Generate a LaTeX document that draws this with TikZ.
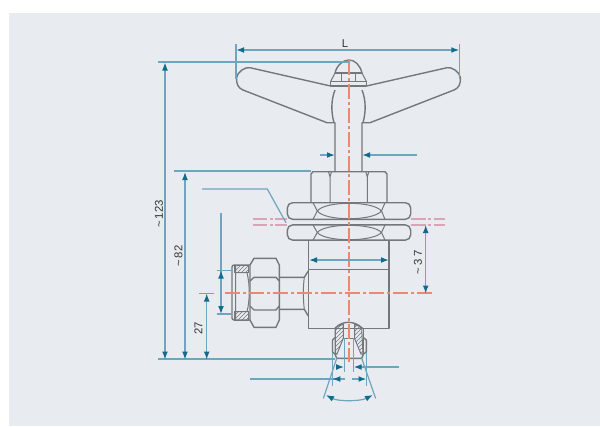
\documentclass[tikz,border=0pt]{standalone}
\usepackage{fontspec}
\setmainfont{Liberation Sans}
\usetikzlibrary{arrows.meta, patterns}
\definecolor{panelbg}{HTML}{E8ECF0}
\definecolor{partgray}{HTML}{74787B}
\definecolor{dimline}{HTML}{6FA5BE}
\definecolor{dimtip}{HTML}{0F6C8A}
\definecolor{axisred}{HTML}{F0866A}
\definecolor{planepink}{HTML}{DAA4B6}

\begin{document}
\begin{tikzpicture}[x=0.75pt, y=-0.75pt,
	part/.style={draw=partgray, line width=1.05pt, line join=round},
	thin part/.style={draw=partgray, line width=0.75pt},
	hatched/.style={thin part, pattern=north east lines, pattern color=partgray},
	dim/.style={draw=dimline, line width=0.9pt},
	dimarrow/.style={dim, {Latex[length=6pt,width=4.4pt,color=dimtip]}-{Latex[length=6pt,width=4.4pt,color=dimtip]}},
	dimin/.style={dim, -{Latex[length=6pt,width=4.4pt,color=dimtip]}},
	axis/.style={draw=axisred, line width=1pt, dash pattern=on 11pt off 2.5pt on 2pt off 2.5pt},
	plane/.style={draw=planepink, line width=1.1pt, dash pattern=on 11pt off 2pt on 2pt off 2pt},
	dimlabel/.style={font=\fontsize{8.5}{10}\selectfont, text=black!80, inner sep=0pt}]
	\useasboundingbox (0,0) rectangle (600,426);
	\fill[panelbg] (9,13) rectangle (600,426);

	% handle, grip and stem, both halves
	\foreach \mir in {1,-1} {
		\begin{scope}[shift={(348.5,0)}, xscale=\mir]
			\draw[part] (-18,86) -- (-98.5,67.7) .. controls (-103,66.5) and (-111.5,72) .. (-112,78)
				.. controls (-112,84) and (-110.5,88) .. (-105.5,90) -- (-21.5,122.7) -- (-13.5,122.7) -- (-13.5,172);
			\draw[part] (-13.5,90) .. controls (-17.5,100) and (-17.5,112) .. (-14.5,122.7);
			\draw[thin part] (-13.5,73) -- (-18,81.7);
			\draw[thin part] (-7,73) -- (-7,81.7);
		\end{scope}
	}
	\draw[part] (330.5,81.7) rectangle (366.5,86);
	\draw[part] (335,73) -- (362,73);
	\draw[part] (335,73) .. controls (337,65) and (343,60) .. (349,60) .. controls (355,60) and (360,65) .. (362,73);

	% upper hexagon
	\draw[part] (311,202.7) -- (311,174) -- (313,171.7) -- (385,171.7) -- (387,174) -- (387,202.7);
	\draw[thin part] (328.5,171.7) -- (330,177) -- (331.5,171.7) (330,177) -- (330,202.7);
	\draw[thin part] (365.8,171.7) -- (367.3,177) -- (368.8,171.7) (367.3,177) -- (367.3,202.7);

	% the two lock nuts
	\foreach \cy/\hh in {211/8.3, 232.5/7.6} {
		\draw[part, rounded corners=4pt] (287.3,\cy-\hh) rectangle (410.7,\cy+\hh);
		\draw[thin part] (313,\cy-\hh) -- (317.3,\cy) -- (313,\cy+\hh);
		\draw[thin part] (385,\cy-\hh) -- (381.5,\cy) -- (385,\cy+\hh);
		\draw[thin part] (317.3,\cy) .. controls (325,\cy-\hh-2) and (373,\cy-\hh-2) .. (381.5,\cy)
			.. controls (373,\cy+\hh+2) and (325,\cy+\hh+2) .. (317.3,\cy);
	}

	% valve body
	\draw[part] (308.3,240) -- (308.3,328.3) -- (389,328.3) -- (389,240);
	\draw[part] (308.3,269.3) -- (389,269.3);

	% side connection
	\draw[part] (308.3,271) -- (304.3,277.3) -- (280,277.3);
	\draw[part] (308.3,316) -- (304.3,309.3) -- (280,309.3);
	\draw[thin part] (304.3,277.3) .. controls (303,288) and (303,298) .. (304.3,309.3);
	\draw[part] (250,265) -- (254,258.3) -- (276,258.3) -- (279.3,265) -- (279.3,320) -- (276,327.3) -- (254,327.3) -- (250,320) -- cycle;
	\draw[part] (250,281) -- (254,277.3) -- (276,277.3) -- (279.3,281);
	\draw[part] (250,306) -- (254,310) -- (276,310) -- (279.3,306);
	\draw[hatched] (234,265) -- (248,265) -- (248,272.7) -- (234,272.7) -- cycle;
	\draw[hatched] (234,311.7) -- (248,311.7) -- (248,320) -- (234,320) -- cycle;
	\draw[part, rounded corners=1.5pt] (250,265) -- (232,265) -- (232,320) -- (250,320);
	\draw[thin part] (235.7,265) -- (235.7,320) (235.7,272.7) -- (247,272.7) .. controls (250,285) and (250,300) .. (247,311.7) -- (235.7,311.7);

	% lower outlet
	\draw[hatched] (335,328.3) .. controls (337,326) and (340,325) .. (343.3,324.5) -- (343.3,338.3) -- (337,354) -- (335,354) -- cycle;
	\draw[hatched] (361.7,328.3) .. controls (360,326) and (357,325) .. (354.5,324.5) -- (354.5,338.3) -- (361,354) -- (363,354) -- cycle;
	\draw[part] (335,328.3) .. controls (339,324) and (344,322.3) .. (348.3,322.3) .. controls (353,322.3) and (358,324) .. (362.5,328.3);
	\draw[thin part] (343.3,338.3) -- (354.5,338.3);
	\draw[part] (335,337.7) -- (332.5,340) -- (332.5,352) -- (335,354) -- (336.7,358.3) -- (361.7,358.3) -- (363.5,354) -- (366.3,352) -- (366.3,340) -- (363.5,337.7);
	\draw[thin part] (335,328.3) -- (335,354) (363.5,328.3) -- (363.5,354);

	% centre lines
	\draw[axis] (349,60) -- (349,362);
	\draw[axis, line width=1.2pt] (225,293) -- (432,293);
	\draw[plane] (252.7,219) -- (287,219) (252.7,225) -- (287,225);
	\draw[plane] (411,219) -- (445,219) (411,225) -- (445,225);

	% extension lines
	\draw[dim] (236,44) -- (236,79);
	\draw[dim] (459.3,44) -- (459.3,79);
	\draw[dim, line width=1.2pt] (157.7,62) -- (349,62);
	\draw[dim, line width=1.2pt] (174.3,171) -- (311,171);
	\draw[dim, line width=1.2pt] (157.7,359) -- (335,359);
	\draw[dim] (198.7,293.5) -- (214,293.5);
	\draw[dim] (216.7,270.5) -- (232,270.5);
	\draw[dim] (216.7,314) -- (232,314);
	\draw[dim] (202,189) -- (267.3,189) -- (286,222.7);
	\draw[dim] (332.3,353) -- (332.3,386);
	\draw[dim] (366.5,353) -- (366.5,386);
	\draw[dim] (344.2,338) -- (344.2,372);
	\draw[dim] (353.6,338) -- (353.6,372);
	\draw[dim] (336.7,358.3) -- (323.3,398.5);
	\draw[dim] (361.7,358.3) -- (375.7,398.5);

	% dimension arrows
	\draw[dimarrow, line width=1.1pt] (236,50) -- (459.3,50);
	\draw[dimarrow] (165,62.5) -- (165,359.5);
	\draw[dimarrow] (185,172) -- (185,359.5);
	\draw[dimarrow] (206.7,293.5) -- (206.7,359.5);
	\draw[dimarrow] (425.7,225) -- (425.7,293.5);
	\draw[dimarrow, line width=1.1pt] (309,260) -- (389,260);
	\draw[dim] (221,212.5) -- (221,300);
	\draw[dimin] (221,285) -- (221,270.5);
	\draw[dimin] (221,295) -- (221,314);
	\draw[dimin, line width=1.1pt] (320,155) -- (335,155);
	\draw[dimin, line width=1.1pt] (417.3,155) -- (362,155);
	\draw[dimin, line width=1.1pt] (336,367) -- (344.2,367);
	\draw[dimin, line width=1.1pt] (399,367) -- (353.6,367);
	\draw[dim, line width=1.1pt] (250,379) -- (345,379);
	\draw[dimin, line width=1.1pt] (345,379) -- (332.3,379);
	\draw[dimin, line width=1.1pt] (352,379) -- (366.5,379);
	\draw[dimarrow] (326,395) .. controls (338,401.5) and (360,401.5) .. (373,395);

	% labels
	\node[dimlabel] (lenlabel) at (345,44) {L};
	\node[dimlabel, rotate=90] (totallabel) at (159,214) {\textasciitilde\,123};
	\node[dimlabel, rotate=90] (bodylabel) at (178.5,256) {\textasciitilde\,82};
	\node[dimlabel, rotate=90] (sidelabel) at (198.5,328) {27};
	\node[dimlabel, rotate=90] (planelabel) at (418,262) {\textasciitilde\,3 7};
\end{tikzpicture}
\end{document}
